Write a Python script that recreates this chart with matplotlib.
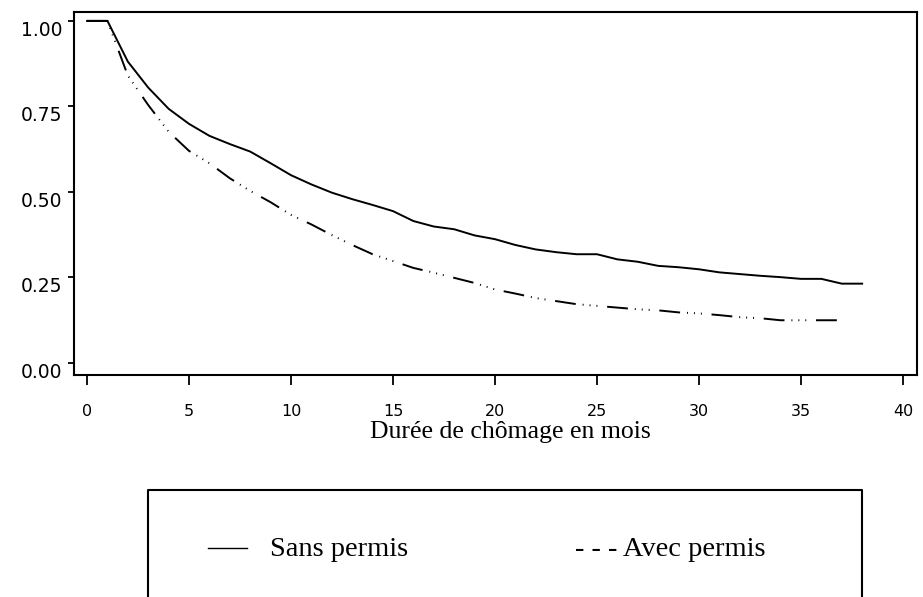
import numpy as np
import matplotlib
matplotlib.use("Agg")
import matplotlib.pyplot as plt
from matplotlib.lines import Line2D

# survival curves (monthly steps)
months_sans = list(range(0, 39))
sans_permis = [1.000, 1.000, 0.881, 0.805, 0.743, 0.699, 0.664, 0.640, 0.618, 0.584,
               0.549, 0.522, 0.498, 0.479, 0.462, 0.444, 0.415, 0.399, 0.391, 0.373,
               0.362, 0.345, 0.332, 0.324, 0.318, 0.318, 0.303, 0.296, 0.284, 0.280,
               0.274, 0.265, 0.260, 0.255, 0.251, 0.246, 0.246, 0.232, 0.232]

months_avec = list(range(0, 38))
avec_permis = [1.000, 1.000, 0.840, 0.754, 0.676, 0.620, 0.584, 0.540, 0.503, 0.470,
               0.433, 0.405, 0.374, 0.345, 0.318, 0.298, 0.278, 0.264, 0.249, 0.234,
               0.215, 0.203, 0.190, 0.181, 0.172, 0.167, 0.162, 0.157, 0.154, 0.148,
               0.145, 0.140, 0.134, 0.131, 0.125, 0.125, 0.125, 0.125]

x_ticks = [0, 5, 10, 15, 20, 25, 30, 35, 40]
y_ticks = [0.0, 0.25, 0.5, 0.75, 1.0]
y_tick_labels = ["0.00", "0.25", "0.50", "0.75", "1.00"]

X_LABEL = "Durée de chômage en mois"
LEG_SANS = "Sans permis"
LEG_AVEC = "- - - Avec permis"

W, H = 923, 597
SERIF = ["Liberation Serif", "DejaVu Serif"]
SANS = ["DejaVu Sans"]

plt.rcParams["lines.scale_dashes"] = False


def fx(px):
    return px / W


def fy(py):
    return 1 - py / H


def main():
    fig = plt.figure(figsize=(W / 100, H / 100), dpi=100)
    ax = fig.add_axes([fx(74), fy(375), (917 - 74) / W, (375 - 12) / H])

    ax.plot(months_sans, sans_permis, color="black", linewidth=1.4)
    ax.plot(months_avec, avec_permis, color="black", linewidth=1.4,
            dash_capstyle="butt",
            linestyle=(0, (15, 5, 0.7, 4.3, 0.7, 4.3, 0.7, 7)))

    ax.set_xlim(-0.64, 40.69)
    ax.set_ylim(-0.035, 1.026)

    for s in ax.spines.values():
        s.set_linewidth(1.5)

    ax.set_xticks(x_ticks)
    ax.set_yticks(y_ticks)
    ax.set_yticklabels(y_tick_labels)
    ax.tick_params(axis="x", direction="out", length=7.2, width=1.3, pad=14,
                   labelsize=11.5)
    ax.tick_params(axis="y", direction="out", length=4.5, width=1.3, pad=4,
                   labelsize=13.5)
    for lab in ax.get_xticklabels() + ax.get_yticklabels():
        lab.set_family(SANS)
    for lab in ax.get_yticklabels():
        lab.set_va("top")

    fig.text(fx(510), fy(438), X_LABEL, ha="center", va="baseline",
             fontsize=18.5, family=SERIF)

    # legend box (bottom edge falls outside the image)
    box = Line2D([fx(148), fx(148), fx(862), fx(862)],
                 [fy(610), fy(490), fy(490), fy(610)],
                 transform=fig.transFigure, color="black", linewidth=1.5,
                 clip_on=False)
    fig.add_artist(box)
    fig.add_artist(Line2D([fx(208), fx(247)], [fy(548), fy(548)],
                          transform=fig.transFigure, color="black", linewidth=1.0))
    fig.text(fx(270), fy(556.5), LEG_SANS, ha="left", va="baseline",
             fontsize=20.5, family=SERIF)
    fig.text(fx(575), fy(556.5), LEG_AVEC, ha="left", va="baseline",
             fontsize=20.5, family=SERIF)

    fig.savefig("out.png", dpi=100)
    plt.close(fig)


if __name__ == "__main__":
    main()
